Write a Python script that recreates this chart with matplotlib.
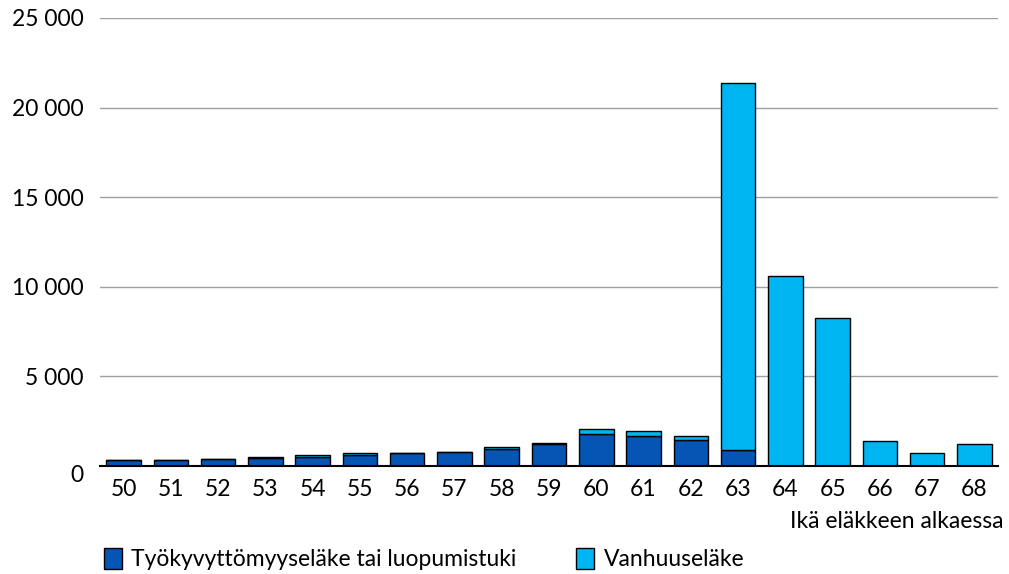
import matplotlib
matplotlib.use("Agg")
import matplotlib.pyplot as plt
import matplotlib.transforms as mtransforms
import numpy as np

ika = [50, 51, 52, 53, 54, 55, 56, 57, 58, 59, 60, 61, 62, 63, 64, 65, 66, 67, 68]
tyokyvyttomyys = [335, 360, 410, 470, 500, 600, 710, 800, 950, 1230, 1810, 1700, 1430, 875, 0, 0, 0, 0, 0]
vanhuus = [0, 0, 0, 50, 115, 150, 0, 0, 130, 70, 280, 250, 245, 20515, 10585, 8240, 1380, 750, 1210]

tumma = "#0455B4"
vaalea = "#00B6F2"
koko = 16.5

plt.rcParams["font.family"] = ["Lato", "DejaVu Sans"]

fig = plt.figure(figsize=(10.09, 5.74), dpi=100)
ax = fig.add_axes([100 / 1009, 108 / 574, 898 / 1009, 448 / 574])

x = np.arange(len(ika))
ax.bar(x, tyokyvyttomyys, width=0.73, color=tumma, edgecolor="black", linewidth=1, zorder=3,
       label="Työkyvyttömyyseläke tai luopumistuki")
ax.bar(x, vanhuus, width=0.73, bottom=tyokyvyttomyys, color=vaalea, edgecolor="black", linewidth=1, zorder=3,
       label="Vanhuuseläke")

ax.set_xlim(-0.5, len(ika) - 0.5)
ax.set_ylim(0, 25000)
ax.set_yticks(range(0, 25001, 5000))
ax.set_yticklabels(["0"] + [f"{v // 1000} 000" for v in range(5000, 25001, 5000)], fontsize=koko)
ax.set_xticks(x)
ax.set_xticklabels([str(a) for a in ika], fontsize=koko)
ax.tick_params(axis="both", length=0)
ax.tick_params(axis="y", pad=12)
ax.tick_params(axis="x", pad=9)
# nolla hieman alemmas kuten alkuperäisessä
nolla = ax.get_yticklabels()[0]
nolla.set_transform(nolla.get_transform() + mtransforms.ScaledTranslation(0, -7 / 100, fig.dpi_scale_trans))
ax.grid(axis="y", color="#A0A0A0", linewidth=1, zorder=0)
for s in ["top", "right", "left"]:
    ax.spines[s].set_visible(False)
ax.spines["bottom"].set_linewidth(1.5)
ax.spines["bottom"].set_zorder(4)

fig.text(1003 / 1009, 1 - 521 / 574, "Ikä eläkkeen alkaessa", ha="right", va="center", fontsize=koko)

ax.legend(loc="center left", bbox_to_anchor=(-17 / 898, -0.208), ncol=2, frameon=False, fontsize=koko,
          handlelength=0.8, handleheight=1.0, columnspacing=2.6, handletextpad=0.4)

fig.savefig("out.png", dpi=100)
